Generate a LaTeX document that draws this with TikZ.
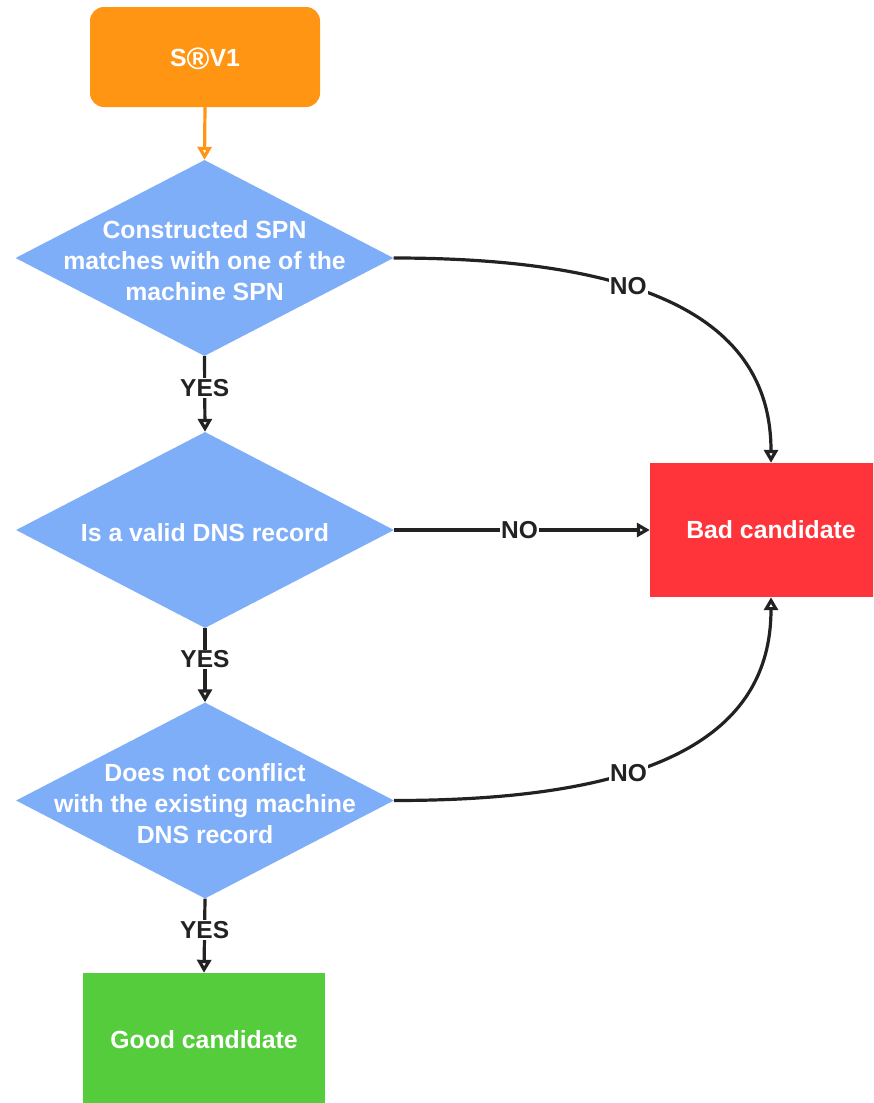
\documentclass[tikz,border=0pt]{standalone}
\usepackage{fontspec}
\setmainfont{Liberation Sans}
\usetikzlibrary{shapes.geometric,arrows.meta}
\definecolor{startorange}{HTML}{FF9512}
\definecolor{decblue}{HTML}{7FAEF8}
\definecolor{badred}{HTML}{FF333A}
\definecolor{goodgreen}{HTML}{55CC3B}
\definecolor{ink}{HTML}{222222}
\tikzset{
  txt/.style={font=\fontsize{24.8}{31}\selectfont\bfseries, text=white, align=center},
  decision/.style={shape=diamond, fill=decblue, draw=none, inner sep=0pt,
    minimum width=378pt, minimum height=196pt},
  endbox/.style={draw=none, minimum width=242pt, minimum height=134pt, inner sep=0pt},
  conn/.style={line width=3.2pt, draw=ink, -{Triangle[open, length=13pt, width=14pt]}},
  lbl/.style={font=\fontsize{24.5}{29}\selectfont\bfseries, text=ink, fill=white, inner sep=1pt}
}
\begin{document}
\begin{tikzpicture}[x=1pt, y=-1pt]
  \useasboundingbox (0,0) rectangle (873,1103);
  \begin{scope}
  \clip (0,0) rectangle (873,1103);

  % start box
  \node[fill=startorange, rounded corners=14pt, minimum width=230pt, minimum height=100pt,
        inner sep=0pt] (start) at (205,57) {};
  \node[txt] (startt) at (205,59) {S\raisebox{-0.12em}{\scalebox{1.25}{®}}V1};

  % decisions
  \node[decision] (d1) at (204.5,258) {};
  \node[txt] (d1t) at (204.5,261) {Constructed SPN\\matches with one of the\\machine SPN};
  \node[decision] (d2) at (205,530) {};
  \node[txt] (d2t) at (205,532.5) {Is a valid DNS record};
  \node[decision] (d3) at (205,800.5) {};
  \node[txt] (d3t) at (205,803.5) {Does not conflict\\with the existing machine\\DNS record};

  % outcomes
  \node[endbox, fill=badred, txt] (bad) at (771,530) {Bad candidate};
  \node[endbox, fill=goodgreen, txt] (good) at (204,1040) {Good candidate};

  % connectors
  \draw[conn, draw=startorange] (start.south) -- (d1.north);
  \draw[conn] (d1.south) -- node[lbl, pos=0.42] {YES} (d2.north);
  \draw[conn] (d2.south) -- node[lbl, pos=0.42] {YES} (d3.north);
  \draw[conn] (d3.south) -- node[lbl, pos=0.42] {YES} (good.north);

  \draw[conn] (d1.east) .. controls +(262,0) and +(0,-138) .. node[lbl, pos=0.375] {NO} (bad.north);
  \draw[conn] (d2.east) -- node[lbl, pos=0.49] {NO} (bad.west);
  \draw[conn] (d3.east) .. controls +(262,0) and +(0,138) .. node[lbl, pos=0.375] {NO} (bad.south);
  \end{scope}
\end{tikzpicture}
\end{document}
